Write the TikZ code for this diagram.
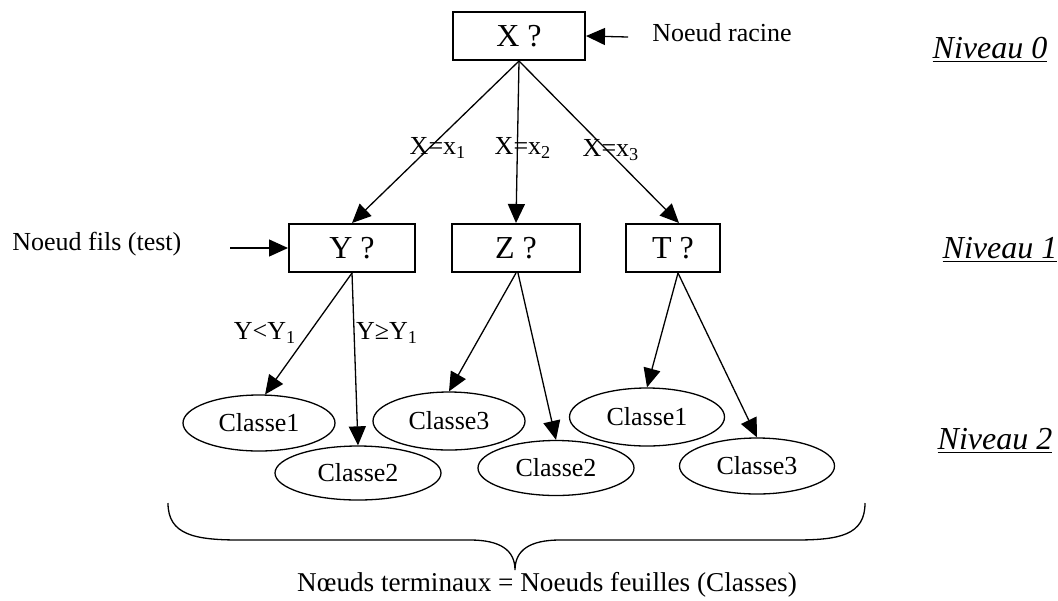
\documentclass[tikz,border=0pt]{standalone}
\usepackage{fontspec}
\setmainfont{Liberation Serif}
\usetikzlibrary{arrows.meta,shapes.geometric}
\begin{document}
\begin{tikzpicture}[x=0.5pt,y=-0.5pt,
  testbox/.style={draw,line width=1pt,minimum height=24pt,inner sep=0pt,
    font=\fontsize{16}{18}\selectfont},
  leaf/.style={draw,ellipse,line width=0.65pt,inner sep=0pt,minimum width=77pt,
    minimum height=28pt,font=\fontsize{13}{15}\selectfont},
  edge/.style={line width=0.65pt,-{Triangle[length=9.5pt,width=8.5pt]}},
  lbl/.style={font=\fontsize{13}{15}\selectfont,inner sep=0pt},
  level/.style={font=\fontsize{16}{18}\selectfont\itshape,inner sep=0pt},
]
\useasboundingbox (0,0) rectangle (1058,600);

% test nodes
\node[testbox,minimum width=66pt] (X) at (519,36) {X ?};
\node[testbox,minimum width=63pt] (Y) at (352,248) {Y ?};
\node[testbox,minimum width=64pt] (Z) at (516,248) {Z ?};
\node[testbox,minimum width=47pt] (T) at (673,248) {T ?};

% leaves
\node[leaf,minimum width=76pt] (c1a) at (259,423) {Classe1};
\node[leaf,minimum width=83pt,minimum height=27pt] (c2a) at (358,473) {Classe2};
\node[leaf,minimum width=76pt,minimum height=29pt] (c3b) at (449,421) {Classe3};
\node[leaf,minimum width=78pt,minimum height=27.5pt] (c2b) at (556,468) {Classe2};
\node[leaf,minimum width=77.5pt,minimum height=29pt] (c1c) at (647,417) {Classe1};
\node[leaf,minimum width=77.5pt,minimum height=28pt] (c3c) at (757,466) {Classe3};

% branches
\draw[edge] (X.south) -- (Y.north);
\draw[edge] (X.south) -- (Z.north);
\draw[edge] (X.south) -- ([xshift=3pt]T.north);
\draw[edge] (Y.south) -- (c1a.78);
\draw[edge] (Y.south) -- (c2a.north);
\draw[edge] (Z.south) -- (c3b.north);
\draw[edge] ([xshift=1pt]Z.south) -- (c2b.north);
\draw[edge] ([xshift=2.5pt]T.south) -- (c1c.north);
\draw[edge] ([xshift=2.5pt]T.south) -- (c3c.north);

% branch labels
\node[lbl] (lx1) at (438,148) {X=x\textsubscript{1}};
\node[lbl] (lx2) at (523,148) {X=x\textsubscript{2}};
\node[lbl] (lx3) at (611,150) {X=x\textsubscript{3}};
\node[lbl] (ly1) at (265,333) {Y<Y\textsubscript{1}};
\node[lbl] (ly2) at (387,333) {Y≥Y\textsubscript{1}};

% pointers and captions
\node[lbl,anchor=west] (racine) at (652,33) {Noeud racine};
\coordinate (rootptr) at (628,37);
\draw[edge] (rootptr) -- (X.east);
\node[lbl,anchor=west] (fils) at (12,244) {Noeud fils (test)};
\coordinate (filsptr) at (230,248);
\draw[edge] (filsptr) -- (Y.west);

% levels
\node[level] (n0) at (990,50) {\underline{Niveau 0}};
\node[level] (n1) at (1000,250) {\underline{Niveau 1}};
\node[level] (n2) at (995,441) {\underline{Niveau 2}};

% brace under the leaves
\draw[line width=0.65pt] (168,503) .. controls (168,535) and (195,540) .. (240,540)
  -- (470,540) .. controls (500,540) and (515,550) .. (515,570)
  .. controls (515,550) and (530,540) .. (560,540)
  -- (795,540) .. controls (840,540) and (865,535) .. (865,503);
\node[lbl,font=\fontsize{13.6}{15}\selectfont] (feuilles) at (547,585)
  {Nœuds terminaux = Noeuds feuilles (Classes)};
\end{tikzpicture}
\end{document}
